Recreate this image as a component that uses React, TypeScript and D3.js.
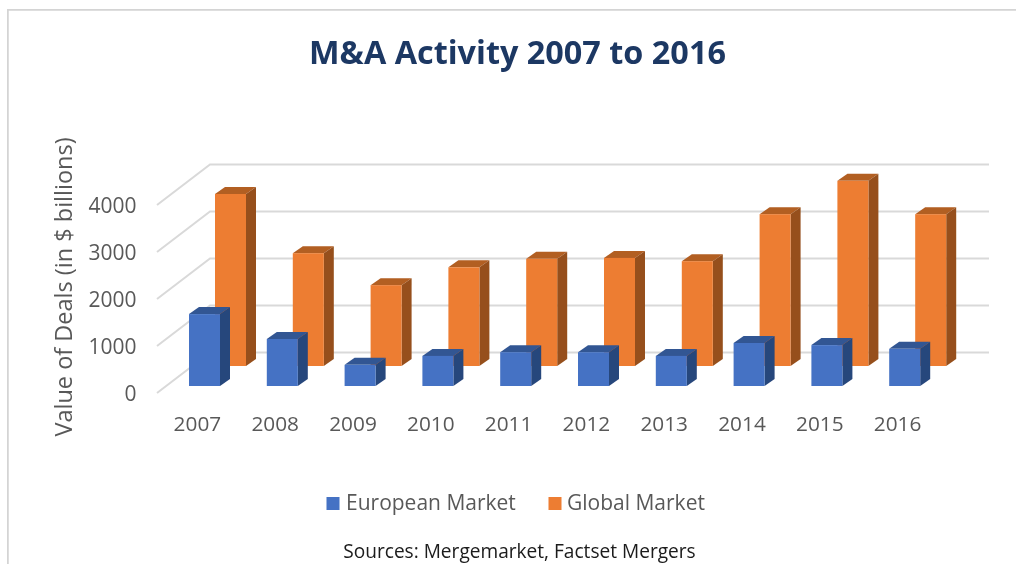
import React from "react";
import * as d3 from "d3";

const years = ["2007","2008","2009","2010","2011","2012","2013","2014","2015","2016"];
const europeanValues = [1530,1000,450,640,720,720,640,915,870,790];
const globalValues = [3660,2400,1720,2100,2280,2300,2230,3230,3940,3230];
const yTicks = [0,1000,2000,3000,4000];
const seriesNames = ["European Market","Global Market"];

const W = 1016, H = 564;
const FONT = "'Open Sans', 'Noto Sans', sans-serif";
const band = d3.scaleBand<string>().domain(years).range([176.5, 954.5]).paddingInner(0).paddingOuter(0);
const step = band.step();
const barW = 31;
const dx = 10, dy = -7;
// value heights in pixels
const h = d3.scaleLinear().domain([0, 4000]).range([0, 188]);

function Bar({ x, base, height, front, top, side }: any) {
  const t = base - height;
  const pts = (a: number[][]) => a.map(p => p.join(",")).join(" ");
  return (
    <g>
      <polygon points={pts([[x, t], [x + dx, t + dy], [x + barW + dx, t + dy], [x + barW, t]])} fill={top} />
      <polygon points={pts([[x + barW, t], [x + barW + dx, t + dy], [x + barW + dx, base + dy], [x + barW, base]])} fill={side} />
      <rect x={x} y={t} width={barW} height={height} fill={front} />
    </g>
  );
}

export default function App() {
  const blueBase = 386, orangeBase = 366;
  const backZero = 352.5, frontZero = 393;
  return (
    <svg width={W} height={H} style={{ position: "absolute", left: 0, top: 0, background: "#fff" }} fontFamily={FONT}>
      <defs>
        <filter id="soft" x="0" y="0" width="100%" height="100%">
          <feGaussianBlur stdDeviation="0.4" />
        </filter>
      </defs>
      <g filter="url(#soft)">
        <path d="M7.5 564 V9.5 H1016" fill="none" stroke="#d4d4d4" strokeWidth={2.5} />
        <text x={517.5} y={64} textAnchor="middle" fontSize={32.4} fontWeight={700} fill="#1f3864">M&amp;A Activity 2007 to 2016</text>

        {yTicks.map(v => (
          <g key={v}>
            <polyline
              points={`157,${frontZero - h(v)} 210,${backZero - h(v)} 989,${backZero - h(v)}`}
              fill="none" stroke="#d9d9d9" strokeWidth={2}
            />
            <text x={136.5} y={frontZero - h(v) + 7.5} textAnchor="end" fontSize={21} fill="#595959">{v}</text>
          </g>
        ))}

        {years.map((y, i) => (
          <Bar key={y} x={band(y)! + 38.5} base={orangeBase} height={h(globalValues[i])}
            front="#ed7d31" top="#b25e24" side="#96501c" />
        ))}
        {years.map((y, i) => (
          <Bar key={y} x={band(y)! + 12.5} base={blueBase} height={h(europeanValues[i])}
            front="#4472c4" top="#335693" side="#28467b" />
        ))}

        {years.map(y => (
          <text key={y} x={band(y)! + step / 2 - 18} y={431} textAnchor="middle" fontSize={20.8} fill="#595959">{y}</text>
        ))}

        <text transform="translate(72,287) rotate(-90)" textAnchor="middle" fontSize={23.5} fill="#595959">Value of Deals (in $ billions)</text>

        <rect x={326.5} y={497} width={13} height={13} fill="#4472c4" />
        <text x={346} y={510} fontSize={21} fill="#595959">{seriesNames[0]}</text>
        <rect x={548.5} y={497} width={13} height={13} fill="#ed7d31" />
        <text x={567} y={510} fontSize={21} fill="#595959">{seriesNames[1]}</text>

        <text x={519.5} y={558} textAnchor="middle" fontSize={19.1} fill="#1a1a1a">Sources: Mergemarket, Factset Mergers</text>
      </g>
    </svg>
  );
}
